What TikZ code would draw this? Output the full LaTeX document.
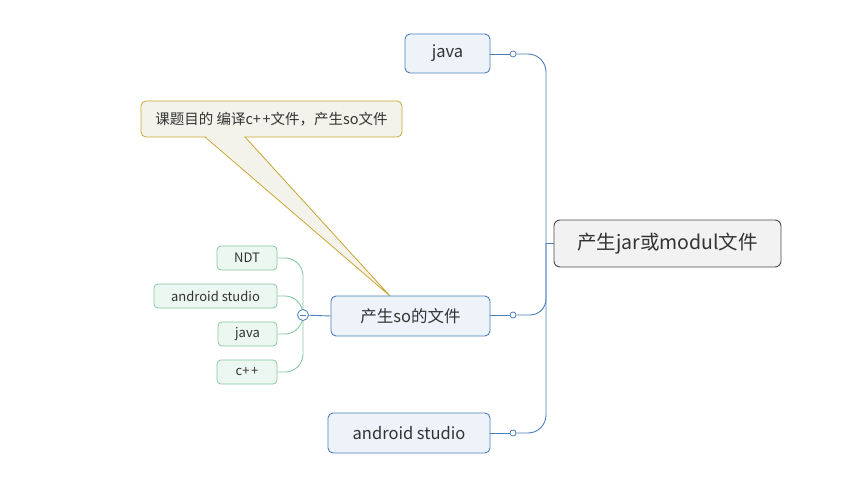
\documentclass[tikz,border=0pt]{standalone}
\usepackage{fontspec}
\setmainfont{Noto Sans CJK SC}
\usetikzlibrary{calc}
\definecolor{bline}{HTML}{4A7EBB}
\definecolor{bfill}{HTML}{EEF3FA}
\definecolor{gline}{HTML}{86C9A0}
\definecolor{gfill}{HTML}{EDF7F1}
\definecolor{cfill}{HTML}{F4F3EB}
\definecolor{cline}{HTML}{C9A632}
\definecolor{rfill}{HTML}{F2F2F2}
\definecolor{txt}{HTML}{333333}
\tikzset{
  bbox/.style={draw=bline, fill=bfill, rounded corners=5pt, line width=0.9pt, text=txt, font=\fontsize{16.5}{19}\selectfont, inner sep=0pt},
  gbox/.style={draw=gline, fill=gfill, rounded corners=4pt, line width=0.8pt, text=txt, font=\fontsize{13}{15}\selectfont, inner sep=0pt},
  rbox/.style={draw=black!70, fill=rfill, rounded corners=6pt, line width=0.9pt, text=txt, font=\fontsize{19.5}{22}\selectfont, inner sep=0pt},
  blink/.style={draw=bline, line width=0.9pt},
  glink/.style={draw=gline, line width=0.9pt},
  knob/.style={circle, draw=bline, fill=white, line width=0.8pt, minimum size=6pt, inner sep=0pt},
}
\begin{document}
\begin{tikzpicture}[x=1pt,y=-1pt]
\useasboundingbox[fill=white] (0,0) rectangle (846,484);
% callout tail
\fill[cfill] (205,136) -- (390,296) -- (245,136) -- cycle;
\draw[cline, line width=0.8pt] (205,137) -- (390,296) -- (245,137);
% callout
\node[draw=cline, fill=cfill, rounded corners=5pt, line width=0.8pt, text=txt, font=\fontsize{14.5}{17}\selectfont, minimum width=261pt, minimum height=36pt, inner sep=0pt] (call) at (271.5,119) {课题目的 编译c+\kern1.5pt+文件，产生so文件};
% tail redraw over callout bottom border
\fill[cfill] (206,136) -- (244,136) -- (244,139) -- (208,139) -- cycle;
% root
\node[rbox, minimum width=227pt, minimum height=47pt] (root) at (667.5,243.5) {产生jar或modul文件};
% blue nodes
\node[bbox, minimum width=85pt, minimum height=39pt] (java) at (447.5,53.5) {java};
\node[bbox, minimum width=159pt, minimum height=40pt] (so) at (410.5,316) {产生so的文件};
\node[bbox, minimum width=162pt, minimum height=40pt] (as) at (409,433) {android studio};
% knobs
\node[knob] (k1) at (513,54) {};
\node[knob] (k2) at (513,315) {};
\node[knob] (k3) at (513,433) {};
\coordinate (trunk) at (546,243.5);
% blue links
\draw[blink] (root.west) -- (trunk);
\draw[blink] (java.east |- k1) -- (k1);
\draw[blink] (so.east |- k2) -- (k2);
\draw[blink] (as.east |- k3) -- (k3);
\draw[blink] (k1.east) -- (528,54) arc[start angle=90, end angle=0, radius=18pt] -- (trunk);
\draw[blink] (k2.east) -- (530,315) arc[start angle=-90, end angle=0, radius=16pt] -- (trunk);
\draw[blink] (k3.east) -- (528,433) arc[start angle=270, end angle=360, radius=18pt] -- (trunk);
% green nodes
\node[gbox, minimum width=60pt, minimum height=24pt] (ndt) at (247,258) {NDT};
\node[gbox, minimum width=123pt, minimum height=24pt] (as2) at (215.5,296) {android studio};
\node[gbox, minimum width=59pt, minimum height=24pt] (jv2) at (247.5,334) {java};
\node[gbox, minimum width=60pt, minimum height=24pt] (cpp) at (247,372) {c+\kern1.5pt+};
\coordinate (gh) at (303,315);
\draw[glink] (ndt.east) -- (285,258) arc[start angle=90, end angle=0, radius=18pt] -- (gh);
\draw[glink] (cpp.east) -- (285,372) arc[start angle=270, end angle=360, radius=18pt] -- (gh);
\draw[glink] (as2.east) -- (285,296) to[out=0, in=90] (gh);
\draw[glink] (jv2.east) -- (285,334) to[out=0, in=270] (gh);
% minus knob
\draw[blink] (gh) -- (so.west);
\node[circle, draw=bline, fill=white, line width=0.8pt, minimum size=11pt, inner sep=0pt] (minus) at (gh) {};
\draw[bline, line width=0.9pt] ($(minus.center)+(-3,0)$) -- ($(minus.center)+(3,0)$);
\end{tikzpicture}
\end{document}
